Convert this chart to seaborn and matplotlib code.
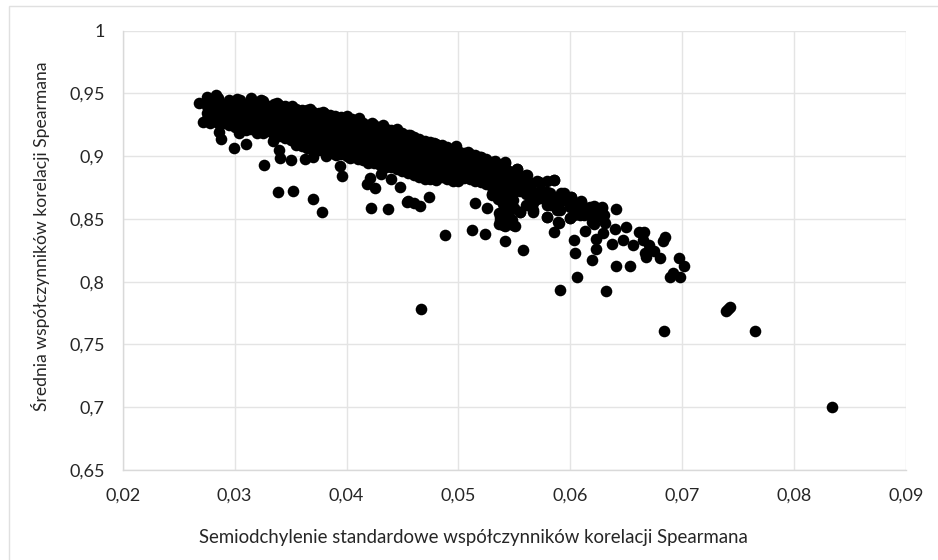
import matplotlib
matplotlib.use("Agg")
import matplotlib.pyplot as plt
import pandas as pd
import seaborn as sns
from matplotlib.patches import Rectangle

# upper edge of the cloud
top_x = [.02685, .0275, .0283, .0302, .0315, .0324, .0338, .0351, .0367, .0379, .0400, .0411, .0423, .0433, .0445,
         .0457, .0478, .0498, .0509, .0519, .0533, .0542, .0552, .0561, .0570, .0579, .0585]
top_y = [.9424, .9471, .9485, .9451, .9459, .9445, .9419, .9397, .9371, .9352, .9320, .9300, .9260, .9246, .9214,
         .9167, .9105, .9079, .9034, .8994, .8962, .8952, .8901, .8848, .8800, .8800, .8806]

# filled middle of the cloud, column by column
core_x = [.028] * 4 + [.029] * 4 + [.030] * 5 + [.031] * 5 + [.032] * 5 + [.033] * 5 + [.034] * 6 + [.035] * 6 \
    + [.036] * 7 + [.037] * 7 + [.038] * 7 + [.039] * 7 + [.040] * 7 + [.041] * 7 + [.042] * 7 + [.043] * 7 \
    + [.044] * 7 + [.045] * 7 + [.046] * 7 + [.047] * 7 + [.048] * 7 + [.049] * 6 + [.050] * 6 + [.051] * 5 \
    + [.052] * 5 + [.053] * 6 + [.054] * 5 + [.055] * 4 + [.056] * 3
core_y = [.944, .939, .934, .929,
          .941, .936, .931, .926,
          .943, .938, .933, .928, .923,
          .941, .936, .931, .926, .921,
          .943, .938, .933, .928, .923,
          .940, .935, .930, .925, .920,
          .941, .936, .931, .926, .921, .916,
          .938, .933, .928, .923, .918, .913,
          .937, .932, .927, .922, .917, .912, .908,
          .935, .930, .925, .920, .915, .910, .905,
          .934, .929, .924, .919, .914, .909, .904,
          .932, .927, .922, .917, .912, .907, .902,
          .930, .925, .920, .915, .910, .905, .900,
          .928, .923, .918, .913, .908, .903, .898,
          .925, .920, .915, .910, .905, .900, .896,
          .923, .918, .913, .908, .903, .898, .893,
          .921, .916, .911, .906, .901, .896, .891,
          .918, .913, .908, .903, .898, .893, .888,
          .915, .910, .905, .900, .895, .890, .885,
          .912, .907, .902, .897, .892, .887, .882,
          .910, .905, .900, .895, .890, .885, .881,
          .907, .902, .897, .892, .887, .882,
          .904, .899, .894, .889, .884, .880,
          .902, .897, .892, .887, .882,
          .899, .894, .889, .884, .879,
          .895, .890, .885, .880, .875, .870,
          .890, .885, .880, .875, .870,
          .886, .881, .876, .871,
          .880, .875, .870]

# second set of columns, between the first ones
mid_x = [.0275] * 4 + [.0285] * 5 + [.0295] * 5 + [.0305] * 5 + [.0315] * 6 + [.0325] * 6 + [.0335] * 6 + [.0345] * 6 \
    + [.0355] * 7 + [.0365] * 7 + [.0375] * 7 + [.0385] * 7 + [.0395] * 7 + [.0405] * 7 + [.0415] * 7 + [.0425] * 7 \
    + [.0435] * 7 + [.0445] * 7 + [.0455] * 7 + [.0465] * 7 + [.0475] * 7 + [.0485] * 6 + [.0495] * 6 + [.0505] * 5 \
    + [.0515] * 5 + [.0525] * 5 + [.0535] * 5 + [.0545] * 5 + [.0555] * 3 + [.0565] * 3
mid_y = [.9445, .9395, .9345, .9295,
         .9465, .9415, .9365, .9315, .9265,
         .9445, .9395, .9345, .9295, .9245,
         .9445, .9395, .9345, .9295, .9245,
         .9445, .9395, .9345, .9295, .9245, .9215,
         .9435, .9385, .9335, .9285, .9235, .9185,
         .9415, .9365, .9315, .9265, .9215, .9165,
         .9395, .9345, .9295, .9245, .9195, .9145,
         .9375, .9325, .9275, .9225, .9175, .9125, .9085,
         .9365, .9315, .9265, .9215, .9165, .9115, .9065,
         .9345, .9295, .9245, .9195, .9145, .9095, .9045,
         .9325, .9275, .9225, .9175, .9125, .9075, .9025,
         .9315, .9265, .9215, .9165, .9115, .9065, .9015,
         .9295, .9245, .9195, .9145, .9095, .9045, .8995,
         .9265, .9215, .9165, .9115, .9065, .9015, .8965,
         .9245, .9195, .9145, .9095, .9045, .8995, .8945,
         .9215, .9165, .9115, .9065, .9015, .8965, .8915,
         .9195, .9145, .9095, .9045, .8995, .8945, .8895,
         .9165, .9115, .9065, .9015, .8965, .8915, .8865,
         .9135, .9085, .9035, .8985, .8935, .8885, .8835,
         .9115, .9065, .9015, .8965, .8915, .8865, .8815,
         .9085, .9035, .8985, .8935, .8885, .8835,
         .9055, .9005, .8955, .8905, .8855, .8805,
         .9025, .8975, .8925, .8875, .8825,
         .9005, .8955, .8905, .8855, .8805,
         .8975, .8925, .8875, .8825, .8775,
         .8935, .8885, .8835, .8785, .8735,
         .8885, .8835, .8785, .8735, .8685,
         .8825, .8775, .8725,
         .8785, .8735, .8665]

# points hanging just below the main band, left half
low_x = [.02715, .02863, .02876, .02998, .0310, .03042, .03265, .0341, .0340, .0350, .0363, .0370, .0382, .0334,
         .03957, .03942, .04255, .0418, .0421, .0431, .0440, .0419, .0430, .0403, .0409, .0391,
         .0320, .0278, .0448]
low_y = [.9268, .9193, .9132, .9061, .9100, .9180, .8926, .8986, .9047, .8970, .8973, .8994, .9002, .9121,
         .8843, .8917, .8745, .8777, .8827, .8856, .8814, .8941, .8954, .8981, .8989, .9007,
         .9180, .9260, .8755]

# loose part of the cloud, right half
tail_x = [.0533, .0546, .0539, .0582, .0588, .0595, .0603, .0609, .0621, .0615, .0574, .0563, .0543, .0531,
          .0549, .0567, .0579, .0606, .0627, .0594, .0601, .0610, .0621, .0628, .0641, .0631, .0640, .0650, .0661,
          .0666, .0685, .0683, .0590, .0579, .0567, .0555, .0537, .0600, .0619, .0647, .0656, .0667, .0668, .0680,
          .0675, .0670, .0665, .0551, .0542, .0536, .0515, .0526, .0585, .0613, .0623, .0637, .0623, .0629,
          .0575, .0585, .0590, .0600, .0610, .0560, .0550, .0540, .0535, .0530, .0545, .0548]
tail_y = [.8715, .8596, .8543, .8609, .8570, .8649, .8570, .8530, .8543, .8583, .8729, .8742, .8742, .8835,
          .8822, .8663, .8715, .8623, .8516, .8702, .8671, .8641, .8601, .8583, .8575, .8466, .8416, .8437, .8397,
          .8397, .8352, .8325, .8468, .8511, .8556, .8556, .8516, .8503, .8476, .8331, .8291, .8225, .8193, .8190,
          .8246, .8291, .8331, .8442, .8442, .8463, .8623, .8588, .8397, .8403, .8257, .8299, .8339, .8384,
          .8665, .8665, .8625, .8600, .8600, .8610, .8590, .8620, .8660, .8690, .8520, .8490]

# dense clump around x 0,053-0,063
blob_x = [.0537, .0549, .0540, .0555, .0567, .0579, .0589, .0600, .0612, .0621, .0630, .0628,
          .0542, .0552, .0560, .0572, .0585, .0592, .0601, .0610, .0621,
          .0528, .0540, .0552, .0564, .0573, .0582, .0537, .0549, .0531, .0567, .0579,
          .0588, .0600, .0609, .0618, .0591, .0603, .0542, .0536, .0579, .0570, .0609, .0618, .0600]
blob_y = [.8490, .8450, .8450, .8556, .8569, .8516, .8477, .8503, .8530, .8463, .8530, .8596,
          .8946, .8901, .8848, .8795, .8808, .8702, .8676, .8636, .8596,
          .8782, .8782, .8755, .8729, .8715, .8702, .8676, .8649, .8715, .8623, .8609,
          .8649, .8596, .8543, .8530, .8569, .8530, .8596, .8543, .8676, .8662, .8596, .8596, .8649]

# single points well away from the cloud
out_x = [.0339, .0352, .0370, .0378, .0422, .0437, .0454, .0474, .0466, .0460, .0455, .0488, .0512, .0524, .0542,
         .0558, .0467, .0591, .0606, .0604, .0603, .0619, .0632, .0641, .0653, .0697, .0702, .0692, .0689, .0698,
         .0684, .0739, .0741, .0743, .0765, .0834]
out_y = [.8713, .8723, .8660, .8551, .8588, .8580, .8636, .8675, .8604, .8623, .8641, .8368, .8408, .8376, .8323,
         .8249, .7779, .7931, .8034, .8230, .8331, .8169, .7925, .8122, .8124, .8188, .8122, .8071, .8034, .8039,
         .7604, .7770, .7785, .7795, .7605, .7005]

x_ticks = [.02, .03, .04, .05, .06, .07, .08, .09]
x_labels = ["0,02", "0,03", "0,04", "0,05", "0,06", "0,07", "0,08", "0,09"]
y_ticks = [.65, .7, .75, .8, .85, .9, .95, 1]
y_labels = ["0,65", "0,7", "0,75", "0,8", "0,85", "0,9", "0,95", "1"]

df = pd.DataFrame({
    "x": top_x + core_x + mid_x + low_x + tail_x + blob_x + out_x,
    "y": top_y + core_y + mid_y + low_y + tail_y + blob_y + out_y,
})

sns.set_theme(style="whitegrid")
plt.rcParams["font.family"] = ["Lato", "DejaVu Sans"]

W, H = 938, 560
fig = plt.figure(figsize=(W / 100, H / 100), dpi=100)
ax = fig.add_axes([122.7 / W, 1 - 470 / H, (906 - 122.7) / W, (470 - 30.5) / H])

sns.scatterplot(data=df, x="x", y="y", ax=ax, color="black", s=70, linewidth=0, clip_on=False, zorder=3)

ax.set_xlim(.02, .09)
ax.set_ylim(.65, 1)
ax.set_xticks(x_ticks, x_labels)
ax.set_yticks(y_ticks, y_labels)
ax.grid(True, color="#e4e4e4", linewidth=1)
ax.tick_params(length=0, labelsize=13, labelcolor="#262626", pad=13)
for name, sp in ax.spines.items():
    sp.set_visible(name in ("left", "bottom"))
    sp.set_color("#d9d9d9")
    sp.set_linewidth(1)

ax.set_xlabel("")
ax.set_ylabel("")
fig.text(473.5 / W, 1 - 538 / H, "Semiodchylenie standardowe współczynników korelacji Spearmana",
         ha="center", va="center", fontsize=13.4, color="#262626")
fig.text(40 / W, 1 - 236 / H, "Średnia współczynników korelacji Spearmana",
         ha="center", va="center", rotation=90, fontsize=12.6, color="#262626")

# chart frame only shows on the top and left
fig.add_artist(Rectangle((9 / W, -0.02), 1, 1.02 - 6 / H, transform=fig.transFigure, fill=False,
                         edgecolor="#e0e0e0", linewidth=1))

fig.savefig("out.png", dpi=100)
